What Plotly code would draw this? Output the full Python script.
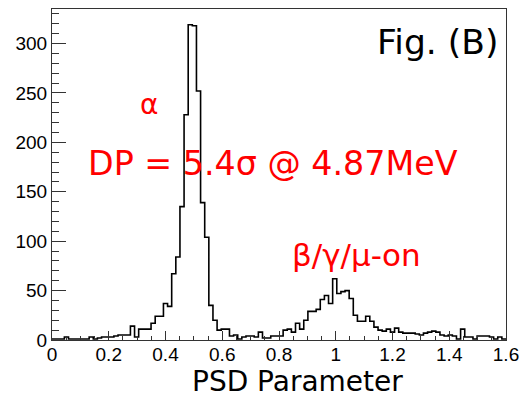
import numpy as np
import plotly.graph_objects as go

# Histogram: 110 bins between 0 and 1.6
x_min, x_max, n_bins = 0.0, 1.6, 110
counts = [
    1, 1, 1, 3, 1, 1, 1, 1, 1, 3,
    1, 2, 3, 3, 3, 4, 5, 5, 5, 14,
    3, 11, 11, 11, 17, 24, 24, 37, 34, 67,
    84, 135, 228, 319, 318, 252, 139, 104, 35, 20,
    10, 11, 11, 4, 5, 1, 3, 4, 4, 3,
    8, 2, 2, 4, 4, 4, 10, 11, 8, 17,
    11, 20, 29, 29, 31, 41, 45, 37, 62, 47,
    49, 50, 42, 25, 19, 19, 24, 19, 13, 10,
    9, 11, 8, 12, 8, 7, 7, 7, 6, 5,
    7, 8, 9, 8, 5, 4, 5, 4, 1, 11,
    3, 3, 1, 4, 4, 4, 3, 1, 3, 1,
]

x_ticks = [0, 0.2, 0.4, 0.6, 0.8, 1.0, 1.2, 1.4, 1.6]
x_tick_text = ["0", "0.2", "0.4", "0.6", "0.8", "1", "1.2", "1.4", "1.6"]
y_ticks = [0, 50, 100, 150, 200, 250, 300]

edges = np.linspace(x_min, x_max, n_bins + 1)
xs = list(edges)
ys = list(counts) + [counts[-1]]

fig = go.Figure()
fig.add_trace(go.Scatter(
    x=xs, y=ys, mode="lines", line=dict(color="black", width=1.6, shape="hv"),
    hoverinfo="skip", showlegend=False,
))

tick_font = dict(family="Liberation Sans, Arial, sans-serif", size=19, color="black")

fig.update_xaxes(
    range=[0, 1.6], tickvals=x_ticks, ticktext=x_tick_text,
    ticks="inside", ticklen=9, tickwidth=1, tickcolor="#333",
    minor=dict(dtick=0.05, ticks="inside", ticklen=4.5, tickwidth=1, tickcolor="#333"),
    showline=True, linecolor="#333", linewidth=1, mirror=True,
    showgrid=False, zeroline=False, tickfont=tick_font, ticklabelstandoff=-3,
)
fig.update_yaxes(
    range=[0, 335], tickvals=y_ticks,
    ticks="inside", ticklen=14, tickwidth=1, tickcolor="#333",
    minor=dict(dtick=10, ticks="inside", ticklen=7, tickwidth=1, tickcolor="#333"),
    showline=True, linecolor="#333", linewidth=1, mirror=True,
    showgrid=False, zeroline=False, tickfont=tick_font,
)

text_font = "DejaVu Sans, sans-serif"
annotations = [
    dict(text="Fig. (B)", x=443, y=41, size=34.5, color="black"),
    dict(text="α", x=151, y=104, size=28, color="#ff0000"),
    dict(text="DP = 5.4σ @ 4.87MeV", x=276, y=163, size=33.3, color="#ff0000"),
    dict(text="β/γ/μ-on", x=361, y=255, size=31, color="#ff0000"),
    dict(text="PSD Parameter", x=301, y=381.5, size=28, color="black"),
]
W, H = 527, 398
ml, mr, mt, mb = 52, 14, 8, 58
for a in annotations:
    fig.add_annotation(
        x=(a["x"] - ml) / (W - ml - mr), y=1 - (a["y"] - mt) / (H - mt - mb),
        xref="paper", yref="paper", text=a["text"], showarrow=False,
        xanchor="center", yanchor="middle", borderpad=0,
        font=dict(family=text_font, size=a["size"], color=a["color"]),
    )

fig.update_layout(
    width=W, height=H, margin=dict(l=ml, r=mr, t=mt, b=mb, pad=0),
    paper_bgcolor="white", plot_bgcolor="white",
)
fig.write_html("out.html")
